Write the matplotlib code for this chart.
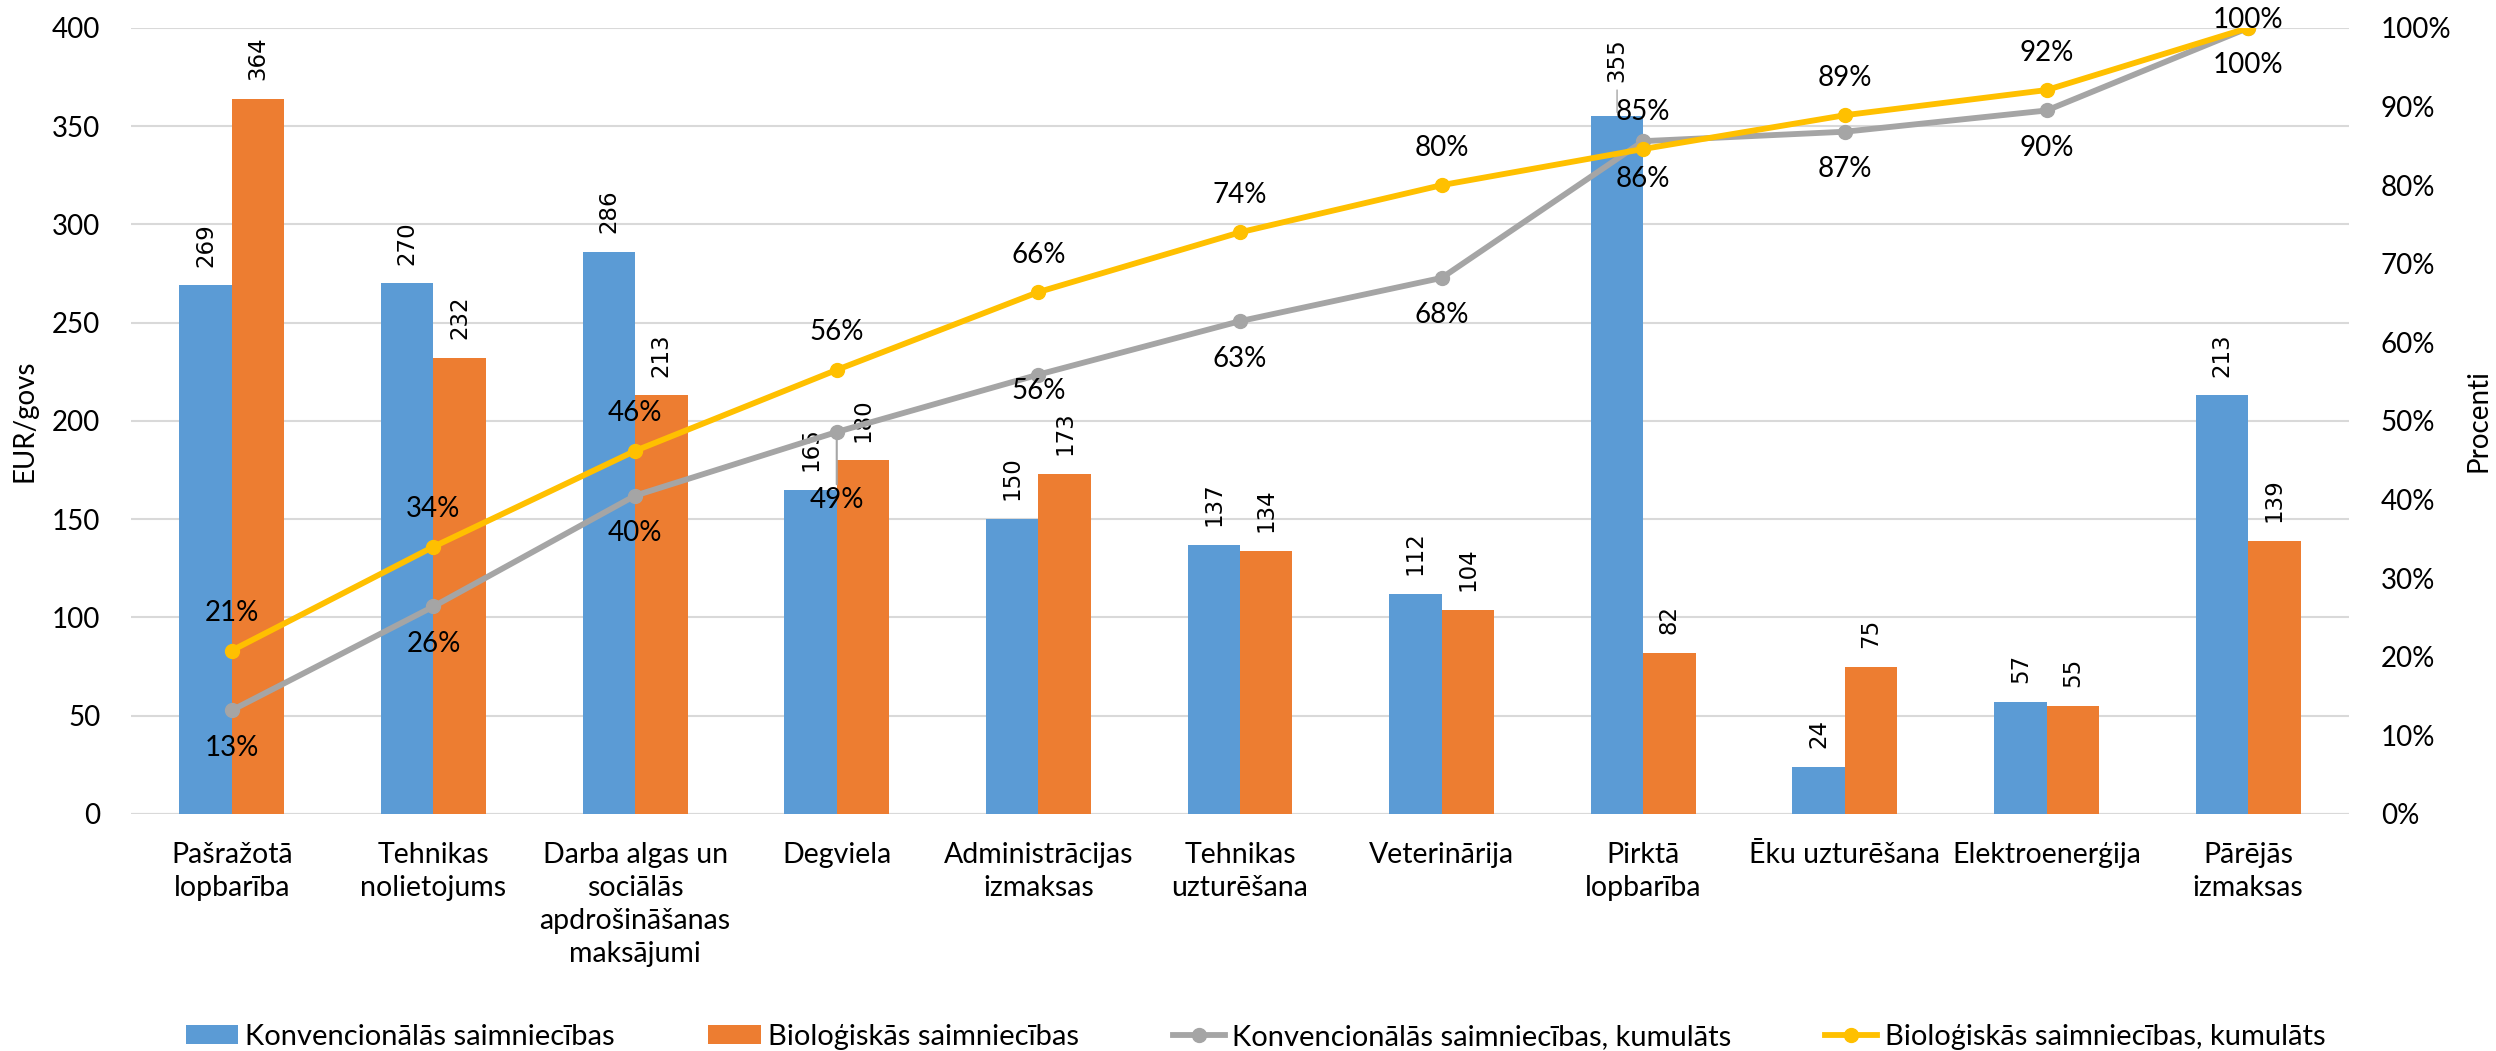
import matplotlib.pyplot as plt
import numpy as np
from matplotlib.ticker import PercentFormatter, MultipleLocator

plt.rcParams['font.family'] = ['Lato', 'DejaVu Sans']

# Dati
kategorijas = ['Pašražotā\nlopbarība', 'Tehnikas\nnolietojums',
               'Darba algas un\nsociālās\napdrošināšanas\nmaksājumi',
               'Degviela', 'Administrācijas\nizmaksas', 'Tehnikas\nuzturēšana',
               'Veterinārija', 'Pirktā\nlopbarība', 'Ēku uzturēšana',
               'Elektroenerģija', 'Pārējās\nizmaksas']
konv = [269, 270, 286, 165, 150, 137, 112, 355, 24, 57, 213]
bio = [364, 232, 213, 180, 173, 134, 104, 82, 75, 55, 139]
konv_kum = [13.2, 26.4, 40.5, 48.6, 55.9, 62.7, 68.2, 85.6, 86.8, 89.5, 100.0]
bio_kum = [20.8, 34.0, 46.2, 56.5, 66.4, 74.0, 80.0, 84.6, 88.9, 92.1, 100.0]

ZILS = '#5B9BD5'
ORANZS = '#ED7D31'
PELEKS = '#A5A5A5'
DZELTENS = '#FFC000'
REZGIS = '#D9D9D9'
FS = 20

fig = plt.figure(figsize=(24.96, 10.51), dpi=100)
ax = fig.add_axes([0.0525, 0.2255, 0.8886, 0.7479])
ax2 = ax.twinx()

x = np.arange(len(kategorijas))
w = 0.26
b1 = ax.bar(x - w / 2, konv, w, color=ZILS, label='Konvencionālās saimniecības', zorder=2)
b2 = ax.bar(x + w / 2, bio, w, color=ORANZS, label='Bioloģiskās saimniecības', zorder=2)

# Stabinu vertibas (pagriezti)
for bars, vals in ((b1, konv), (b2, bio)):
    for i, (bar, v) in enumerate(zip(bars, vals)):
        cx = bar.get_x() + bar.get_width() / 2
        if vals is konv and i == 7:
            ax.annotate(str(v), (cx, v), xytext=(0, 25), textcoords='offset points',
                        rotation=90, ha='center', va='bottom', fontsize=16.5,
                        family='DejaVu Sans',
                        arrowprops=dict(arrowstyle='-', color='#A6A6A6', lw=1,
                                        shrinkA=4, shrinkB=3))
        else:
            ax.annotate(str(v), (cx, v), xytext=(0, 13.5), textcoords='offset points',
                        rotation=90, ha='center', va='bottom', fontsize=16.5,
                        family='DejaVu Sans')

# Kumulativas liknes
k = np.array(konv_kum) / 100
b = np.array(bio_kum) / 100
ax2.plot(x, k, color=PELEKS, lw=4.2, marker='o', ms=10,
         label='Konvencionālās saimniecības, kumulāts', zorder=3)
ax2.plot(x, b, color=DZELTENS, lw=4.2, marker='o', ms=10,
         label='Bioloģiskās saimniecības, kumulāts', zorder=4)

# etiketes, kas Excel pabidijis, lai nepārklātos
nobide_k = {3: -49, 4: -12}
for i, v in enumerate(k):
    dy = nobide_k.get(i, -27)
    props = None
    if i == 3:
        props = dict(arrowstyle='-', color='#A6A6A6', lw=1.5, shrinkA=0, shrinkB=4)
    ax2.annotate(f'{round(v * 100):.0f}%', (x[i], v), xytext=(0, dy),
                 textcoords='offset points', ha='center', va='center',
                 fontsize=FS, arrowprops=props, zorder=6)
for i, v in enumerate(b):
    dy = 6 if i == len(b) - 1 else 27
    ax2.annotate(f'{round(v * 100):.0f}%', (x[i], v), xytext=(0, dy),
                 textcoords='offset points', ha='center', va='center',
                 fontsize=FS, zorder=6)

# Asis
ax.set_xlim(-0.5, len(kategorijas) - 0.5)
ax.set_ylim(0, 400)
ax.yaxis.set_major_locator(MultipleLocator(50))
ax2.set_ylim(0, 1.0)
ax2.yaxis.set_major_locator(MultipleLocator(0.1))
ax2.yaxis.set_major_formatter(PercentFormatter(1.0, decimals=0))

ax.set_xticks(x)
ax.set_xticklabels(kategorijas, fontsize=20.5, linespacing=1.34)
ax.tick_params(axis='x', length=0, pad=20)
ax.tick_params(axis='y', length=0, pad=22, labelsize=FS)
ax2.tick_params(axis='y', length=0, pad=23, labelsize=FS)

ax.grid(axis='y', color=REZGIS, lw=1.5, zorder=0)
ax.set_axisbelow(True)
for a in (ax, ax2):
    for s in a.spines.values():
        s.set_visible(False)
ax.axhline(0, color=REZGIS, lw=1.5, zorder=1)

ax.set_ylabel('EUR/govs', fontsize=FS)
ax.yaxis.set_label_coords(-0.042, 0.5)
ax2.set_ylabel('Procenti', fontsize=FS)
ax2.yaxis.set_label_coords(1.0525, 0.5)

h1, l1 = ax.get_legend_handles_labels()
h2, l2 = ax2.get_legend_handles_labels()
fig.legend(h1 + h2, l1 + l2, loc='center', bbox_to_anchor=(0.503, 1 - 1037 / 1051),
           ncol=4, frameon=False, fontsize=21, columnspacing=3.2,
           handlelength=1.8, handletextpad=0.25, handleheight=0.6)

fig.savefig('out.png', dpi=100)
